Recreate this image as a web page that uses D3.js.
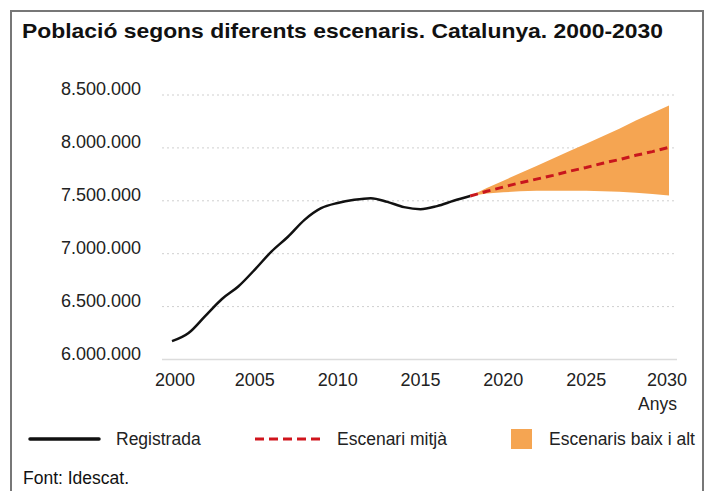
<!DOCTYPE html>
<html><head><meta charset="utf-8">
<script src="https://cdn.jsdelivr.net/npm/d3@7"></script>
<style>
html,body{margin:0;padding:0;background:#fff;}
svg{display:block;font-family:"Liberation Sans",Arial,Helvetica,sans-serif;}
</style></head>
<body>
<script>
const title = "Població segons diferents escenaris. Catalunya. 2000-2030";
const regYears = [2000,2001,2002,2003,2004,2005,2006,2007,2008,2009,2010,2011,2012,2013,2014,2015,2016,2017,2018];
const registered = [6173000,6250000,6410000,6570000,6690000,6850000,7020000,7160000,7320000,7430000,7480000,7510000,7525000,7490000,7440000,7420000,7450000,7500000,7545000];
const projYears = [2018,2019,2020,2021,2022,2023,2024,2025,2026,2027,2028,2029,2030];
const medium = [7545000,7590000,7630000,7670000,7705000,7740000,7780000,7815000,7855000,7890000,7930000,7965000,8005000];
const high = [7545000,7620000,7690000,7760000,7830000,7900000,7970000,8040000,8110000,8180000,8260000,8330000,8400000];
const low = [7545000,7570000,7580000,7590000,7595000,7595000,7595000,7595000,7590000,7585000,7575000,7565000,7550000];
const yTicks = [6000000,6500000,7000000,7500000,8000000,8500000];
const xTicks = [2000,2005,2010,2015,2020,2025,2030];
const legendLabels = ["Registrada","Escenari mitjà","Escenaris baix i alt"];
const xAxisTitle = "Anys";
const source = "Font: Idescat.";

const W = 706, H = 491;
const svg = d3.select("body").append("svg").attr("width", W).attr("height", H);

// frame
svg.append("path").attr("d", `M11,${H+2} V11 H703 V${H+2}`).attr("fill","none").attr("stroke","#777").attr("stroke-width",2);

svg.append("text").attr("x",22).attr("y",38).attr("font-size",21).attr("font-weight","bold").attr("fill","#111")
  .attr("textLength",641).attr("lengthAdjust","spacingAndGlyphs").text(title);

const x = d3.scaleLinear().domain([2000,2030]).range([172,669]);
const y = d3.scaleLinear().domain([6000000,8500000]).range([359.5,95]);

const fmt = v => d3.format(",")(v).replace(/,/g,".");

// gridlines
const grid = svg.append("g");
grid.selectAll("line").data(yTicks.filter(d=>d>6000000)).join("line")
  .attr("x1",162).attr("x2",677).attr("y1",d=>y(d)).attr("y2",d=>y(d))
  .attr("stroke","#cfcfcf").attr("stroke-width",1).attr("stroke-dasharray","2,3");
svg.append("line").attr("x1",162).attr("x2",677).attr("y1",y(6000000)).attr("y2",y(6000000))
  .attr("stroke","#dcdcdc").attr("stroke-width",1.5);

// y labels
svg.append("g").selectAll("text").data(yTicks).join("text")
  .attr("x",141).attr("y",d=>y(d)-6).attr("dy","0.35em").attr("text-anchor","end")
  .attr("font-size",18).attr("fill","#222").text(fmt);

// x labels
svg.append("g").selectAll("text").data(xTicks).join("text")
  .attr("x",d=>x(d)+ (d===2000?3:(d===2030?-2:0))).attr("y",386).attr("text-anchor","middle")
  .attr("font-size",18).attr("fill","#222").text(d=>d);
svg.append("text").attr("x",677).attr("y",410).attr("text-anchor","end").attr("font-size",17.5).attr("fill","#222").text(xAxisTitle);

// band
const proj = projYears.map((yr,i)=>({yr, lo:low[i], hi:high[i], mid:medium[i]}));
svg.append("path").datum(proj)
  .attr("d", d3.area().x(d=>x(d.yr)).y0(d=>y(d.lo)).y1(d=>y(d.hi)))
  .attr("fill","#f5a552");

// registered line
svg.append("path").datum(regYears.map((yr,i)=>({yr,v:registered[i]})))
  .attr("d", d3.line().x(d=>x(d.yr)).y(d=>y(d.v)).curve(d3.curveMonotoneX))
  .attr("fill","none").attr("stroke","#111").attr("stroke-width",2.5);

// medium line
svg.append("path").datum(proj)
  .attr("d", d3.line().x(d=>x(d.yr)).y(d=>y(d.mid)))
  .attr("fill","none").attr("stroke","#c8161d").attr("stroke-width",3).attr("stroke-dasharray","8,5");

// legend
const ly = 439;
svg.append("line").attr("x1",30).attr("x2",99).attr("y1",ly).attr("y2",ly).attr("stroke","#111").attr("stroke-width",3.5).attr("stroke-linecap","round");
svg.append("line").attr("x1",255).attr("x2",322).attr("y1",ly).attr("y2",ly).attr("stroke","#d0141c").attr("stroke-width",3).attr("stroke-dasharray","9,5");
svg.append("rect").attr("x",511).attr("y",429).attr("width",21).attr("height",20).attr("fill","#f5a552");
const lx = [116,337,549];
svg.append("g").selectAll("text").data(legendLabels).join("text")
  .attr("x",(d,i)=>lx[i]).attr("y",ly).attr("dy","0.35em").attr("font-size",17.5).attr("fill","#222").text(d=>d);

svg.append("text").attr("x",23).attr("y",478).attr("dy","0.35em").attr("font-size",17.5).attr("fill","#111").text(source);
</script>
</body></html>
